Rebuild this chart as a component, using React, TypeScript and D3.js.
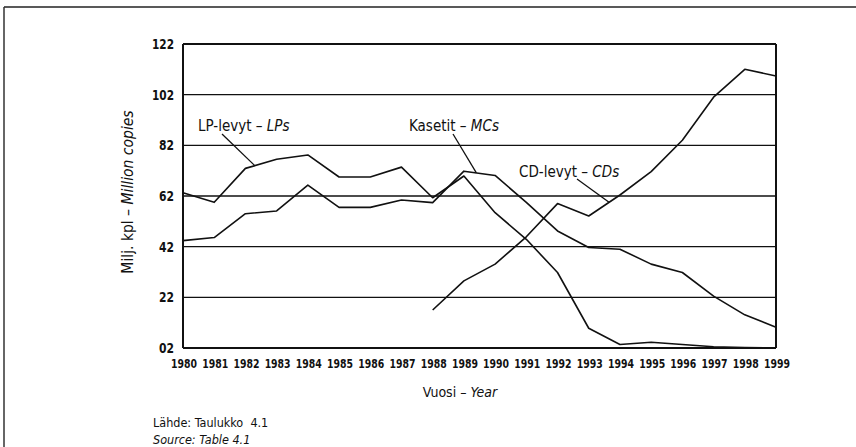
import React from "react";
import * as d3 from "d3";

const years = [1980, 1981, 1982, 1983, 1984, 1985, 1986, 1987, 1988, 1989, 1990, 1991, 1992, 1993, 1994, 1995, 1996, 1997, 1998, 1999];
const lpValues = [63.3, 59.5, 72.9, 76.5, 78.2, 69.5, 69.5, 73.4, 61.3, 69.9, 55.4, 44.9, 31.8, 9.8, 3.4, 4.3, 3.4, 2.5, 2.2, 2.0];
const mcValues = [44.4, 45.6, 55.0, 56.1, 66.3, 57.5, 57.5, 60.4, 59.4, 71.8, 70.1, 59.5, 48.2, 41.7, 41.0, 35.1, 31.8, 22.5, 15.1, 10.2];
const cdYears = [1988, 1989, 1990, 1991, 1992, 1993, 1994, 1995, 1996, 1997, 1998, 1999];
const cdValues = [17.0, 28.5, 35.1, 45.9, 59.0, 54.1, 62.4, 71.6, 84.0, 101.0, 112.0, 109.4];
const yTicks = [2, 22, 42, 62, 82, 102, 122];

const FONT = "'Liberation Sans Narrow', 'DejaVu Sans Condensed', 'Roboto', sans-serif";

type Pt = [number, number];

function interp(xs: number[], vs: number[], t: number) {
  for (let i = 0; i < xs.length - 1; i++) {
    if (t >= xs[i] && t <= xs[i + 1]) {
      const f = (t - xs[i]) / (xs[i + 1] - xs[i]);
      return vs[i] + f * (vs[i + 1] - vs[i]);
    }
  }
  return vs[vs.length - 1];
}

export default function App() {
  const W = 856, H = 447;
  const x = d3.scaleLinear().domain([1980, 1999]).range([183, 776]);
  const y = d3.scaleLinear().domain([2, 122]).range([348, 44]);
  const line = d3.line<Pt>().x((d) => x(d[0])).y((d) => y(d[1]));

  const lp: Pt[] = years.map((yr, i) => [yr, lpValues[i]]);
  const mc: Pt[] = years.map((yr, i) => [yr, mcValues[i]]);
  const cd: Pt[] = cdYears.map((yr, i) => [yr, cdValues[i]]);

  const annotations = [
    { main: "LP-levyt – ", it: "LPs", tx: 198, ty: 131, sx: 222, sy: 134, year: 1982.3, xs: years, vs: lpValues },
    { main: "Kasetit – ", it: "MCs", tx: 409, ty: 131, sx: 453, sy: 134, year: 1989.4, xs: years, vs: mcValues },
    { main: "CD-levyt – ", it: "CDs", tx: 519, ty: 177, sx: 577, sy: 179, year: 1993.65, xs: cdYears, vs: cdValues },
  ];

  return (
    <svg width={W} height={H} style={{ position: "absolute", left: 0, top: 0, background: "#fff" }} fontFamily={FONT}>
      {/* outer frame (top and left) */}
      <line x1={4} x2={856} y1={7} y2={7} stroke="#222" strokeWidth={1.5} />
      <line x1={4} x2={4} y1={7} y2={447} stroke="#333" strokeWidth={1.5} />

      {/* gridlines */}
      {yTicks.map((t) => (
        <line key={t} x1={x(1980)} x2={x(1999)} y1={y(t)} y2={y(t)} stroke="#111" strokeWidth={t === 2 || t === 122 ? 2 : 1.3} />
      ))}
      {/* plot side borders */}
      <line x1={x(1980)} x2={x(1980)} y1={y(122)} y2={y(2)} stroke="#111" strokeWidth={2} />
      <line x1={x(1999)} x2={x(1999)} y1={y(122)} y2={y(2)} stroke="#111" strokeWidth={2} />

      {/* y tick labels */}
      {yTicks.map((t) => (
        <text key={t} x={174} y={y(t)} dy="0.35em" textAnchor="end" fontSize={14} fontWeight="bold" fill="#111"
          textLength={t >= 100 ? 22 : 15} lengthAdjust="spacingAndGlyphs">
          {d3.format("02d")(t)}
        </text>
      ))}
      {/* x tick labels */}
      {years.map((yr) => (
        <text key={yr} x={x(yr) + 1} y={368} textAnchor="middle" fontSize={13} fontWeight="bold" fill="#111"
          textLength={26} lengthAdjust="spacingAndGlyphs">
          {yr}
        </text>
      ))}

      {/* series */}
      <path d={line(lp) || ""} fill="none" stroke="#111" strokeWidth={1.6} strokeLinejoin="round" />
      <path d={line(mc) || ""} fill="none" stroke="#111" strokeWidth={1.6} strokeLinejoin="round" />
      <path d={line(cd) || ""} fill="none" stroke="#111" strokeWidth={1.6} strokeLinejoin="round" />

      {/* annotations */}
      {annotations.map((a) => {
        const ex = x(a.year);
        const ey = y(interp(a.xs, a.vs, a.year));
        return (
          <g key={a.it}>
            <text x={a.tx} y={a.ty} fontSize={15} fill="#111">
              {a.main}
              <tspan fontStyle="italic">{a.it}</tspan>
            </text>
            <line x1={a.sx} y1={a.sy} x2={ex} y2={ey} stroke="#111" strokeWidth={1.3} />
          </g>
        );
      })}

      {/* axis titles */}
      <text transform={`translate(133,192) rotate(-90)`} textAnchor="middle" fontSize={15.5} fill="#111">
        Milj. kpl – <tspan fontStyle="italic">Million copies</tspan>
      </text>
      <text x={460} y={397} textAnchor="middle" fontSize={14} fill="#111">
        Vuosi – <tspan fontStyle="italic">Year</tspan>
      </text>

      {/* source */}
      <text x={153} y={427} fontSize={12.5} fill="#111">Lähde: Taulukko&#160;&#160;4.1</text>
      <text x={153} y={444} fontSize={12.5} fontStyle="italic" fill="#111">Source: Table 4.1</text>
    </svg>
  );
}
